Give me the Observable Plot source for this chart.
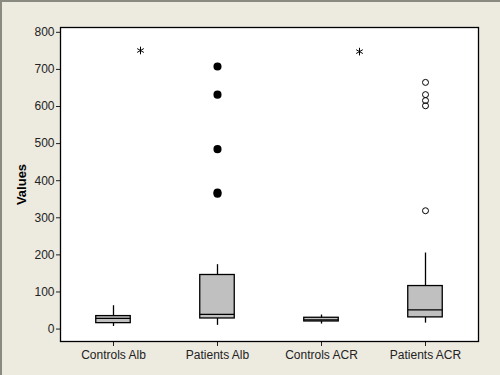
<!DOCTYPE html>
<html>
<head>
<meta charset="utf-8">
<script src="https://cdn.jsdelivr.net/npm/d3@7"></script>
<script src="https://cdn.jsdelivr.net/npm/@observablehq/plot@0.6"></script>
<style>
  html, body { margin: 0; padding: 0; background: #EDEAE0; }
  #wrap { position: relative; width: 500px; height: 375px; overflow: hidden; }
  #edge { position: absolute; left: 0; top: 0; width: 500px; height: 375px; box-sizing: border-box;
          border-top: 2px solid #8a8a80; border-left: 2px solid #8a8a80; pointer-events: none; }
</style>
</head>
<body>
<div id="wrap"><div id="edge"></div></div>
<script>
const categories = ["Controls Alb", "Patients Alb", "Controls ACR", "Patients ACR"];
const whiskerLow  = [7, 10, 13.5, 16];
const q1          = [16, 28.6, 20.5, 31.5];
const median      = [28.6, 39.5, 25, 52];
const q3          = [35, 145.8, 30.5, 116];
const whiskerHigh = [63, 173.6, 37.8, 205];
const outlierCat    = ["Controls Alb", "Patients Alb", "Patients Alb", "Patients Alb", "Patients Alb", "Patients Alb",
                       "Controls ACR", "Patients ACR", "Patients ACR", "Patients ACR", "Patients ACR", "Patients ACR"];
const outlierValue  = [751, 708, 632, 485, 368, 365, 748, 665, 632, 616, 602, 319];
const outlierSymbol = ["asterisk", "filled", "filled", "filled", "filled", "filled",
                       "asterisk", "open", "open", "open", "open", "open"];
const yTicks = [0, 100, 200, 300, 400, 500, 600, 700, 800];

const boxes = categories.map((c, i) => ({c, lo: whiskerLow[i], q1: q1[i], med: median[i], q3: q3[i], hi: whiskerHigh[i]}));
const outliers = outlierCat.map((c, i) => ({c, v: outlierValue[i], s: outlierSymbol[i]}));
const side = 34.75;

const chart = Plot.plot({
  width: 500,
  height: 375,
  marginLeft: 60,
  marginRight: 22,
  marginTop: 27,
  marginBottom: 34,
  style: {background: "#EDEAE0", fontFamily: "Liberation Sans, Arial, sans-serif", fontSize: "12px", color: "#222"},
  x: {domain: categories, padding: 0, label: null, tickSize: 5, tickPadding: 4},
  y: {domain: [-33.5, 813], ticks: yTicks, tickSize: 4, tickPadding: 2, label: null},
  marks: [
    Plot.frame({fill: "white", stroke: "none"}),
    Plot.ruleX(boxes, {x: "c", y1: "lo", y2: "q1", stroke: "black", strokeWidth: 1.3}),
    Plot.ruleX(boxes, {x: "c", y1: "q3", y2: "hi", stroke: "black", strokeWidth: 1.3}),
    Plot.barY(boxes, {x: "c", y1: "q1", y2: "q3", fill: "#C0C0C0", stroke: "black", strokeWidth: 1.3, insetLeft: side, insetRight: side}),
    Plot.tickY(boxes, {x: "c", y: "med", stroke: "black", strokeWidth: 1.3, insetLeft: side, insetRight: side}),
    Plot.dot(outliers.filter(d => d.s === "filled"), {x: "c", y: "v", r: 3.3, fill: "black", stroke: "black"}),
    Plot.dot(outliers.filter(d => d.s === "open"), {x: "c", y: "v", r: 3, fill: "none", stroke: "black", strokeWidth: 1}),
    Plot.dot(outliers.filter(d => d.s === "asterisk" && d.c === "Controls Alb"), {x: "c", y: "v", r: 3.6, dx: 27, symbol: "asterisk", stroke: "black", strokeWidth: 1}),
    Plot.dot(outliers.filter(d => d.s === "asterisk" && d.c === "Controls ACR"), {x: "c", y: "v", r: 3.6, dx: 38, symbol: "asterisk", stroke: "black", strokeWidth: 1}),
    Plot.frame({stroke: "black", strokeWidth: 1.3}),
    Plot.text(["Values"], {frameAnchor: "left", textAnchor: "middle", rotate: -90, dx: -39, fontWeight: "bold", fontSize: 13, fill: "black"})
  ]
});
document.getElementById("wrap").prepend(chart);
</script>
</body>
</html>
